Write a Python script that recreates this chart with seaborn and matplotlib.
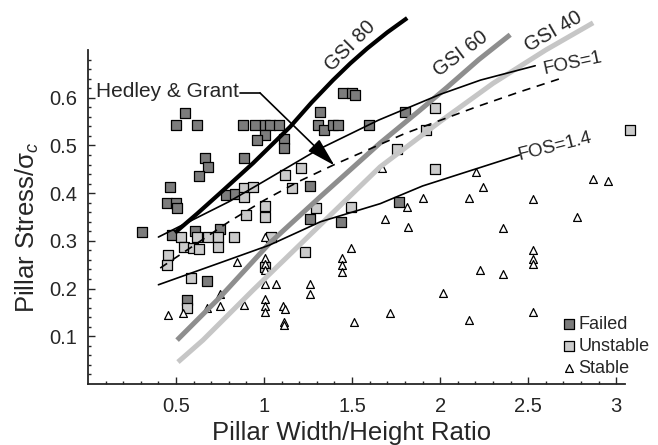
import numpy as np
import pandas as pd
import matplotlib
matplotlib.use("Agg")
import matplotlib.pyplot as plt
import seaborn as sns

# measured pillar cases (width/height ratio, stress/UCS)
failed_x = [0.551, 0.500, 0.619, 0.881, 0.949, 1.006, 1.034, 1.085, 1.006, 0.960,
            1.114, 1.114, 1.318, 1.307, 1.341, 1.392, 1.420, 1.597, 1.449, 1.500,
            1.517, 1.801, 0.665, 0.682, 0.631, 0.886, 0.466, 0.449, 0.500, 0.506,
            0.784, 0.835, 1.261, 1.261, 0.307, 0.477, 0.608, 0.750, 0.676, 0.563,
            1.767, 1.438]
failed_y = [0.568, 0.543, 0.543, 0.543, 0.543, 0.543, 0.543, 0.543, 0.522, 0.512,
            0.514, 0.495, 0.570, 0.543, 0.532, 0.543, 0.543, 0.543, 0.610, 0.610,
            0.606, 0.570, 0.474, 0.455, 0.436, 0.474, 0.413, 0.379, 0.379, 0.369,
            0.396, 0.398, 0.415, 0.346, 0.319, 0.312, 0.321, 0.325, 0.216, 0.176,
            0.382, 0.340]

unstable_x = [0.886, 0.938, 0.886, 1.210, 1.119, 1.159, 1.006, 1.006, 0.898, 1.295,
              0.528, 0.619, 0.682, 0.739, 0.830, 0.545, 0.597, 0.631, 0.739, 0.455,
              0.449, 0.585, 0.563, 1.040, 1.233, 1.006, 1.494, 1.972, 1.920, 1.756,
              1.972, 3.080]
unstable_y = [0.411, 0.413, 0.392, 0.453, 0.438, 0.411, 0.373, 0.350, 0.354, 0.369,
              0.308, 0.308, 0.308, 0.308, 0.308, 0.287, 0.285, 0.283, 0.287, 0.270,
              0.249, 0.222, 0.159, 0.308, 0.277, 0.245, 0.371, 0.579, 0.532, 0.493,
              0.451, 0.532]

stable_x = [1.006, 0.847, 1.006, 1.006, 1.006, 0.750, 0.750, 0.676, 0.455, 0.540,
            0.886, 1.068, 1.006, 1.261, 1.261, 1.006, 1.006, 1.006, 1.108, 1.119,
            1.114, 1.114, 1.494, 1.443, 1.443, 1.443, 1.511, 2.205, 2.244, 2.165,
            1.903, 1.813, 1.688, 1.818, 2.358, 2.227, 2.358, 2.017, 1.716, 2.165,
            2.869, 2.955, 2.528, 2.778, 2.528, 2.528, 2.528, 2.528, 1.670]
stable_y = [0.308, 0.256, 0.264, 0.252, 0.239, 0.189, 0.164, 0.159, 0.145, 0.149,
            0.166, 0.210, 0.210, 0.210, 0.189, 0.178, 0.164, 0.151, 0.164, 0.157,
            0.130, 0.124, 0.285, 0.264, 0.249, 0.235, 0.130, 0.444, 0.413, 0.390,
            0.390, 0.371, 0.346, 0.329, 0.327, 0.239, 0.231, 0.191, 0.149, 0.134,
            0.430, 0.426, 0.388, 0.350, 0.281, 0.262, 0.252, 0.151, 0.453]

# design curves
gsi80_x = [0.494, 0.620, 0.750, 0.938, 1.148, 1.270, 1.392, 1.490, 1.585, 1.700, 1.813]
gsi80_y = [0.317, 0.357, 0.400, 0.463, 0.539, 0.590, 0.637, 0.672, 0.703, 0.737, 0.767]
gsi60_x = [0.506, 0.750, 1.034, 1.318, 1.659, 1.886, 2.040, 2.220, 2.398]
gsi60_y = [0.092, 0.182, 0.296, 0.392, 0.505, 0.574, 0.622, 0.680, 0.732]
gsi40_x = [0.511, 0.653, 0.938, 1.318, 1.659, 2.000, 2.300, 2.600, 2.869]
gsi40_y = [0.046, 0.092, 0.197, 0.333, 0.455, 0.550, 0.630, 0.700, 0.757]
fos1_x = [0.40, 0.60, 0.80, 1.00, 1.30, 1.65, 2.00, 2.23, 2.54]
fos1_y = [0.308, 0.345, 0.382, 0.425, 0.490, 0.553, 0.607, 0.637, 0.667]
hg_x = [0.41, 0.60, 0.80, 1.00, 1.20, 1.40, 1.80, 2.20, 2.45, 2.69]
hg_y = [0.243, 0.290, 0.340, 0.385, 0.425, 0.460, 0.525, 0.580, 0.612, 0.641]
fos14_x = [0.40, 0.75, 1.03, 1.22, 1.32, 1.66, 1.90, 2.45]
fos14_y = [0.208, 0.254, 0.291, 0.323, 0.340, 0.378, 0.415, 0.480]

xticks = [0.5, 1, 1.5, 2, 2.5, 3]
xtick_labels = ["0.5", "1", "1.5", "2", "2.5", "3"]
yticks = [0.1, 0.2, 0.3, 0.4, 0.5, 0.6]

sns.set_style("ticks")
plt.rcParams["font.family"] = ["Liberation Sans", "DejaVu Sans"]
plt.rcParams["mathtext.fontset"] = "custom"
plt.rcParams["mathtext.rm"] = "Liberation Sans"
plt.rcParams["mathtext.it"] = "Liberation Sans:italic"

fig = plt.figure(figsize=(6.58, 4.45), dpi=100)
ax = fig.add_axes([88 / 658, 61 / 445, 537 / 658, 334 / 445])

# curves (drawn on top of the points)
sns.lineplot(x=gsi40_x, y=gsi40_y, color="#c6c6c6", ax=ax, lw=3.6, clip_on=False,
             zorder=4, solid_capstyle="butt")
sns.lineplot(x=gsi60_x, y=gsi60_y, color="#8e8e8e", ax=ax, lw=3.6, clip_on=False,
             zorder=4, solid_capstyle="butt")
sns.lineplot(x=gsi80_x, y=gsi80_y, color="black", ax=ax, lw=3.0, clip_on=False,
             zorder=4, solid_capstyle="butt")
sns.lineplot(x=fos1_x, y=fos1_y, color="black", lw=1.2, ax=ax, zorder=5)
sns.lineplot(x=fos14_x, y=fos14_y, color="black", lw=1.2, ax=ax, zorder=5)
sns.lineplot(x=hg_x, y=hg_y, color="black", lw=1.2, ax=ax, zorder=5,
             linestyle=(0, (5, 4)))

df_f = pd.DataFrame({"x": failed_x, "y": failed_y})
df_u = pd.DataFrame({"x": unstable_x, "y": unstable_y})
df_s = pd.DataFrame({"x": stable_x, "y": stable_y})
sns.scatterplot(data=df_f, x="x", y="y", marker="s", s=58, color="#7c7c7c",
                edgecolor="black", linewidth=0.9, ax=ax, label="Failed", zorder=3,
                clip_on=False)
sns.scatterplot(data=df_u, x="x", y="y", marker="s", s=58, color="#cbcbcb",
                edgecolor="black", linewidth=0.9, ax=ax, label="Unstable", zorder=3,
                clip_on=False)
sns.scatterplot(data=df_s, x="x", y="y", marker="^", s=32, color="white",
                edgecolor="black", linewidth=0.9, ax=ax, label="Stable", zorder=3)

# curve labels
ax.text(1.489, 0.708, "GSI 80", rotation=45, fontsize=14.5, ha="center", va="center")
ax.text(2.119, 0.692, "GSI 60", rotation=37, fontsize=14.5, ha="center", va="center")
ax.text(2.642, 0.738, "GSI 40", rotation=30, fontsize=14.5, ha="center", va="center")
ax.text(2.756, 0.672, "FOS=1", rotation=12, fontsize=13.5, ha="center", va="center")
ax.text(2.653, 0.497, "FOS=1.4", rotation=14, fontsize=13.5, ha="center", va="center")

ax.text(0.449, 0.612, "Hedley & Grant", fontsize=15, ha="center", va="center")
ax.plot([0.864, 0.977], [0.610, 0.610], color="black", lw=1.2)
ax.annotate("", xy=(1.40, 0.458), xytext=(0.977, 0.610),
            arrowprops=dict(arrowstyle="-|>,head_length=1.8,head_width=0.5",
                            color="black", lw=1.2, shrinkA=0, shrinkB=0))

ax.set_xlim(0, 3.05)
ax.set_ylim(0, 0.7)
ax.set_xticks(xticks)
ax.set_xticklabels(xtick_labels)
ax.set_yticks(yticks)
ax.set_yticklabels([f"{v:.1f}" for v in yticks])
ax.set_xticks(np.arange(0.1, 3.05, 0.1), minor=True)
ax.set_yticks(np.arange(0.02, 0.7, 0.02), minor=True)
ax.tick_params(which="both", direction="in", width=1, labelsize=14.5)
ax.tick_params(which="major", length=5)
ax.tick_params(which="minor", length=2.5)
ax.tick_params(axis="x", pad=9)
ax.tick_params(axis="y", pad=8)
sns.despine(ax=ax)
for sp in ["left", "bottom"]:
    ax.spines[sp].set_linewidth(1.3)

ax.set_xlabel("Pillar Width/Height Ratio", fontsize=18.5)
ax.set_ylabel(r"Pillar Stress/$\mathrm{\sigma}_c$", fontsize=18.5)
ax.xaxis.set_label_coords(0.49, -0.11)
ax.yaxis.set_label_coords(-0.088, 0.47)

ax.legend(loc="upper left", bbox_to_anchor=(0.878, 0.205), frameon=False,
          fontsize=13, handletextpad=0.05, handlelength=1.0, borderpad=0,
          labelspacing=0.28, borderaxespad=0)

fig.savefig("out.png", dpi=100)
